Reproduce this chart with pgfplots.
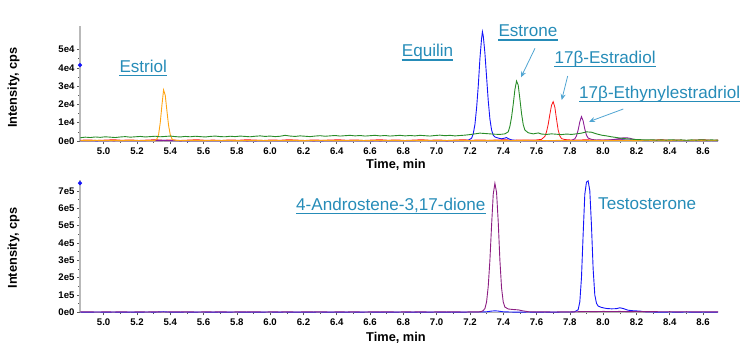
\documentclass[border=0pt]{standalone}
\usepackage{fontspec}
\setmainfont{Liberation Sans}
\usepackage{pgfplots}
\pgfplotsset{compat=1.18}
\usetikzlibrary{arrows.meta}
\definecolor{labc}{RGB}{38,140,184}
\definecolor{arrc}{RGB}{80,165,210}
\definecolor{cgreen}{RGB}{40,140,40}
\definecolor{cblue}{RGB}{20,20,250}
\definecolor{cred}{RGB}{250,20,20}
\definecolor{cpurple}{RGB}{140,30,150}
\definecolor{corange}{RGB}{255,165,20}
\definecolor{cmag}{RGB}{140,30,130}
\pgfplotsset{
  chrom/.style={
    scale only axis, width=638pt, xmin=4.858, xmax=8.69, ymin=0,
    axis x line*=bottom, axis y line*=left,
    x axis line style={gray!60, line width=0.6pt},
    y axis line style={gray!55, line width=1.8pt},
    tick align=outside, major tick length=3pt, minor tick length=1.8pt,
    tick style={gray!70!black, line width=0.5pt},
    xtick={5.0,5.2,5.4,5.6,5.8,6.0,6.2,6.4,6.6,6.8,7.0,7.2,7.4,7.6,7.8,8.0,8.2,8.4,8.6},
    minor x tick num=1, minor y tick num=1,
    xticklabel style={/pgf/number format/.cd, fixed, fixed zerofill, precision=1, assume math mode=true},
    ticklabel style={font=\fontsize{9.6}{10}\selectfont\bfseries},
    yticklabel style={xshift=1pt},
    scaled ticks=false, clip=false,
    every axis plot/.append style={line width=0.9pt},
  }
}
\begin{document}
\begin{tikzpicture}[x=1pt,y=1pt]
\path[use as bounding box] (0,0) rectangle (750,354);
% ---------------- top panel ----------------
\begin{axis}[chrom, at={(80pt,213pt)}, anchor=south west, height=115.3pt, ymax=63000,
  ytick={0,10000,20000,30000,40000,50000}, yticklabels={0e0,1e4,2e4,3e4,4e4,5e4}]
% red (17b-estradiol)
\addplot[cred, line width=0.8pt] coordinates {
(4.86,400)(4.91,600)(4.96,300)(5.01,500)(5.06,700)(5.11,400)(5.16,600)(5.21,300)(5.26,500)(5.31,700)(5.36,400)(5.41,600)(5.46,300)(5.51,500)(5.56,700)(5.61,400)(5.66,500)(5.71,300)(5.76,600)(5.81,400)(5.86,700)(5.91,500)(5.96,300)(6.01,600)(6.06,400)(6.11,700)(6.16,500)(6.21,300)(6.26,600)(6.31,400)(6.36,500)(6.41,700)(6.46,400)(6.51,600)(6.56,300)(6.61,500)(6.66,700)(6.71,400)(6.76,600)(6.81,300)(6.86,500)(6.91,700)(6.96,400)(7.01,600)(7.06,300)(7.11,500)(7.16,700)(7.21,400)(7.26,600)(7.31,400)(7.36,500)(7.41,700)(7.46,400)(7.51,600)(7.56,500)(7.60,600)(7.63,900)(7.65,2500)(7.66,5000)(7.67,9000)(7.68,14500)(7.69,19500)(7.70,21500)(7.71,18500)(7.72,12000)(7.73,6000)(7.74,2800)(7.75,1300)(7.77,800)(7.80,600)(7.85,500)(7.90,700)(7.95,400)(8.00,600)(8.05,500)(8.10,700)(8.15,400)(8.20,600)(8.25,400)(8.30,500)(8.35,700)(8.40,400)(8.45,600)(8.50,300)(8.55,500)(8.60,700)(8.65,400)(8.69,500)};
% blue (equilin)
\addplot[cblue] coordinates {
(4.86,200)(4.96,100)(5.06,300)(5.16,150)(5.26,250)(5.36,400)(5.41,200)(5.51,100)(5.61,250)(5.71,150)(5.81,300)(5.91,100)(6.01,200)(6.11,150)(6.21,300)(6.31,100)(6.41,200)(6.51,250)(6.61,100)(6.71,200)(6.81,150)(6.91,300)(7.01,150)(7.11,200)(7.17,250)(7.19,400)(7.21,1500)(7.22,4000)(7.23,9000)(7.24,18000)(7.25,30000)(7.26,45000)(7.27,56000)(7.275,59700)(7.28,57500)(7.29,48000)(7.30,35000)(7.31,22000)(7.32,12000)(7.33,6000)(7.34,3200)(7.35,2200)(7.37,1600)(7.39,1200)(7.41,1600)(7.42,1900)(7.43,1300)(7.45,600)(7.48,300)(7.55,200)(7.65,150)(7.75,250)(7.85,150)(7.95,300)(8.05,400)(8.12,600)(8.18,400)(8.25,200)(8.35,300)(8.45,150)(8.55,250)(8.65,150)(8.69,200)};
% purple (ethynylestradiol)
\addplot[cpurple] coordinates {
(4.86,150)(4.96,250)(5.06,100)(5.16,200)(5.26,150)(5.36,250)(5.46,100)(5.56,200)(5.66,150)(5.76,250)(5.86,100)(5.96,200)(6.06,150)(6.16,250)(6.26,100)(6.36,200)(6.46,150)(6.56,250)(6.66,100)(6.76,200)(6.86,150)(6.96,250)(7.06,100)(7.16,200)(7.26,150)(7.36,250)(7.46,200)(7.56,150)(7.66,250)(7.76,200)(7.81,300)(7.83,1200)(7.84,2800)(7.85,6000)(7.86,10500)(7.87,13300)(7.88,11000)(7.89,6500)(7.90,3200)(7.91,1600)(7.93,900)(7.96,500)(8.00,400)(8.04,600)(8.07,900)(8.10,1400)(8.12,1700)(8.14,1800)(8.16,1500)(8.18,1000)(8.21,500)(8.25,300)(8.35,200)(8.45,250)(8.55,150)(8.65,250)(8.69,200)};
% orange (estriol)
\addplot[corange] coordinates {
(4.86,300)(4.91,200)(4.96,350)(5.01,250)(5.06,300)(5.11,200)(5.16,350)(5.21,250)(5.26,300)(5.29,250)(5.31,400)(5.32,1200)(5.33,3500)(5.34,10000)(5.35,19500)(5.36,27900)(5.37,25000)(5.38,16500)(5.39,8500)(5.40,3500)(5.41,1200)(5.42,500)(5.44,300)(5.49,250)(5.54,350)(5.59,200)(5.64,300)(5.69,250)(5.74,350)(5.79,200)(5.84,300)(5.89,250)(5.94,350)(5.99,200)(6.04,300)(6.09,250)(6.14,350)(6.19,200)(6.24,300)(6.29,250)(6.34,350)(6.39,200)(6.44,300)(6.49,250)(6.54,350)(6.59,200)(6.64,300)(6.69,250)(6.74,350)(6.79,200)(6.84,300)(6.89,250)(6.94,350)(6.99,200)(7.04,300)(7.09,250)(7.14,350)(7.19,200)(7.24,300)(7.29,250)(7.34,350)(7.39,200)(7.44,300)(7.49,250)(7.54,350)(7.59,200)(7.64,300)(7.69,250)(7.74,350)(7.79,200)(7.84,300)(7.89,250)(7.94,350)(7.99,200)(8.04,300)(8.09,250)(8.14,350)(8.19,200)(8.24,300)(8.29,250)(8.34,350)(8.39,200)(8.44,300)(8.49,250)(8.54,350)(8.59,200)(8.64,300)(8.69,250)};
% green (estrone)
\addplot[cgreen] coordinates {
(4.86,1800)(4.89,2100)(4.92,1900)(4.95,2200)(4.98,2000)(5.01,2300)(5.04,2100)(5.07,1900)(5.10,2200)(5.13,2400)(5.16,2100)(5.19,2300)(5.22,2500)(5.25,2200)(5.28,2400)(5.31,2600)(5.34,2300)(5.37,2500)(5.40,2700)(5.43,2400)(5.46,2200)(5.49,2500)(5.52,2300)(5.55,2600)(5.58,2400)(5.61,2200)(5.64,2500)(5.67,2700)(5.70,2400)(5.73,2300)(5.76,2600)(5.79,2400)(5.82,2700)(5.85,2500)(5.88,2300)(5.91,2600)(5.94,2800)(5.97,2500)(6.00,2700)(6.03,2400)(6.06,2600)(6.09,3100)(6.12,2700)(6.15,2500)(6.18,2800)(6.21,2600)(6.24,2400)(6.27,2700)(6.30,2900)(6.33,2600)(6.36,2800)(6.39,3000)(6.42,2700)(6.45,2900)(6.48,3100)(6.51,2800)(6.54,3000)(6.57,2700)(6.60,2900)(6.63,3100)(6.66,2800)(6.69,3000)(6.72,2700)(6.75,2900)(6.78,3100)(6.81,2800)(6.84,3000)(6.87,2800)(6.90,3100)(6.93,2900)(6.96,2700)(6.99,3000)(7.02,3200)(7.05,2900)(7.08,3100)(7.11,2800)(7.14,3000)(7.17,3200)(7.20,3500)(7.23,3900)(7.26,4300)(7.29,4100)(7.32,3900)(7.35,3700)(7.38,3600)(7.41,3900)(7.43,5000)(7.44,8000)(7.45,13000)(7.46,20000)(7.47,28000)(7.48,32800)(7.49,30500)(7.50,23000)(7.51,15000)(7.52,9000)(7.53,6000)(7.55,4500)(7.58,3900)(7.61,4400)(7.63,3800)(7.66,3600)(7.69,3900)(7.72,3700)(7.75,3500)(7.78,3800)(7.81,3600)(7.84,3900)(7.87,4300)(7.90,5000)(7.93,4800)(7.96,3900)(7.99,3200)(8.02,2800)(8.05,2300)(8.08,1900)(8.11,1500)(8.14,1200)(8.17,1000)(8.20,800)(8.23,700)(8.26,600)(8.29,700)(8.32,500)(8.35,600)(8.38,500)(8.41,700)(8.44,500)(8.47,600)(8.50,400)(8.53,600)(8.56,500)(8.59,700)(8.62,500)(8.65,600)(8.69,500)};
\addplot[cblue, only marks, mark=*, mark size=1.6pt] coordinates {(4.858,41500)};
\end{axis}
% ---------------- bottom panel ----------------
\begin{axis}[chrom, at={(80pt,41.7pt)}, anchor=south west, height=132.3pt, ymax=762000,
  ytick={0,100000,200000,300000,400000,500000,600000,700000}, yticklabels={0e0,1e5,2e5,3e5,4e5,5e5,6e5,7e5}]
% blue (testosterone)
\addplot[cblue] coordinates {
(4.86,1500)(4.91,800)(4.96,1800)(5.01,1000)(5.06,1600)(5.11,700)(5.16,1500)(5.21,900)(5.26,1700)(5.31,1200)(5.36,3500)(5.39,1500)(5.44,800)(5.49,1600)(5.54,1000)(5.59,1800)(5.64,700)(5.69,1500)(5.74,900)(5.79,1700)(5.84,1000)(5.89,1500)(5.94,800)(5.99,1800)(6.04,1000)(6.09,1600)(6.14,700)(6.19,1500)(6.24,900)(6.29,1700)(6.34,1000)(6.39,1500)(6.44,800)(6.49,1600)(6.54,1000)(6.59,1800)(6.64,700)(6.69,1500)(6.74,900)(6.79,1700)(6.84,1000)(6.89,1500)(6.94,800)(6.99,1600)(7.04,1000)(7.09,1500)(7.14,800)(7.19,1600)(7.25,1500)(7.30,3000)(7.33,7000)(7.35,8500)(7.37,7000)(7.40,3000)(7.45,1500)(7.50,1000)(7.55,1600)(7.60,900)(7.65,1500)(7.70,1000)(7.75,1600)(7.80,1500)(7.83,3500)(7.85,15000)(7.86,60000)(7.87,200000)(7.88,450000)(7.89,680000)(7.90,750000)(7.91,757000)(7.92,700000)(7.93,500000)(7.94,250000)(7.95,100000)(7.96,52000)(7.97,36000)(7.99,28000)(8.02,22000)(8.05,20000)(8.08,21000)(8.10,26000)(8.12,22000)(8.15,12000)(8.18,9000)(8.22,7000)(8.25,3000)(8.30,1500)(8.35,900)(8.40,1600)(8.45,1000)(8.50,1700)(8.55,800)(8.60,1500)(8.65,1000)(8.69,1500)};
% purple (4-androstene-3,17-dione)
\addplot[cmag] coordinates {
(4.86,2000)(4.91,2800)(4.96,1500)(5.01,2500)(5.06,1800)(5.11,2700)(5.16,1600)(5.21,2400)(5.26,1900)(5.31,2600)(5.36,1500)(5.41,2500)(5.46,2000)(5.51,2800)(5.56,1600)(5.61,2400)(5.66,1900)(5.71,2700)(5.76,1500)(5.81,2500)(5.86,2000)(5.91,2800)(5.96,1600)(6.01,2400)(6.06,1900)(6.11,2700)(6.16,1500)(6.21,2500)(6.26,2000)(6.31,2800)(6.36,1600)(6.41,2400)(6.46,1900)(6.51,2700)(6.56,1500)(6.61,2500)(6.66,2000)(6.71,2800)(6.76,1600)(6.81,2400)(6.86,1900)(6.91,2700)(6.96,1500)(7.01,2500)(7.06,2000)(7.11,2800)(7.16,1600)(7.21,2400)(7.25,2500)(7.27,5000)(7.28,10000)(7.29,22000)(7.30,60000)(7.31,150000)(7.32,300000)(7.33,500000)(7.34,680000)(7.35,743000)(7.36,690000)(7.37,520000)(7.38,300000)(7.39,140000)(7.40,60000)(7.41,30000)(7.43,19000)(7.46,16000)(7.49,14000)(7.52,8000)(7.55,3500)(7.60,2000)(7.65,2800)(7.70,1600)(7.75,2500)(7.80,2000)(7.85,3500)(7.90,4500)(7.95,4000)(8.00,5000)(8.05,4500)(8.10,5000)(8.15,4000)(8.20,4500)(8.25,3500)(8.30,4000)(8.35,3000)(8.40,3500)(8.45,2500)(8.50,3500)(8.55,2500)(8.60,3000)(8.65,2500)(8.69,2800)};
\addplot[cblue, only marks, mark=*, mark size=1.6pt] coordinates {(4.858,744000)};
\end{axis}
% ---------------- axis titles ----------------
\tikzset{ttl/.style={font=\fontsize{12.8}{14}\selectfont\bfseries, inner sep=0pt}}
\node[ttl, rotate=90] at (13.5,266.5) {Intensity, cps};
\node[ttl, rotate=90] at (13.5,106) {Intensity, cps};
\node[ttl] at (396,189) {Time, min};
\node[ttl] at (396,16) {Time, min};
% ---------------- annotations ----------------
\tikzset{lab/.style={font=\fontsize{17.1}{20}\selectfont, text=labc, inner sep=0pt, anchor=base west}}
\newcommand\ulab[3]{\node[lab] (n) at (#1,#2) {#3};
  \draw[labc, line width=1.2pt] ([yshift=-3.4pt]n.base west) -- ([yshift=-3.4pt]n.base east);}
\ulab{119.3}{281.7}{Estriol}
\ulab{401.7}{297.4}{Equilin}
\ulab{498.3}{317.4}{Estrone}
\ulab{554.3}{290.7}{17β-Estradiol}
\ulab{579}{255.7}{17β-Ethynylestradriol}
\ulab{296}{144}{4-Androstene-3,17-dione}
\node[lab] at (598,144.5) {Testosterone};
\draw[arrc, line width=0.8pt, -{Stealth[length=6pt,width=5pt]}] (535,305.7) -- (521,276.7);
\draw[arrc, line width=0.8pt, -{Stealth[length=6pt,width=5pt]}] (567.7,278) -- (561.7,254);
\draw[arrc, line width=0.8pt, -{Stealth[length=6pt,width=5pt]}] (623.3,245) -- (589,232.3);
\end{tikzpicture}
\end{document}
